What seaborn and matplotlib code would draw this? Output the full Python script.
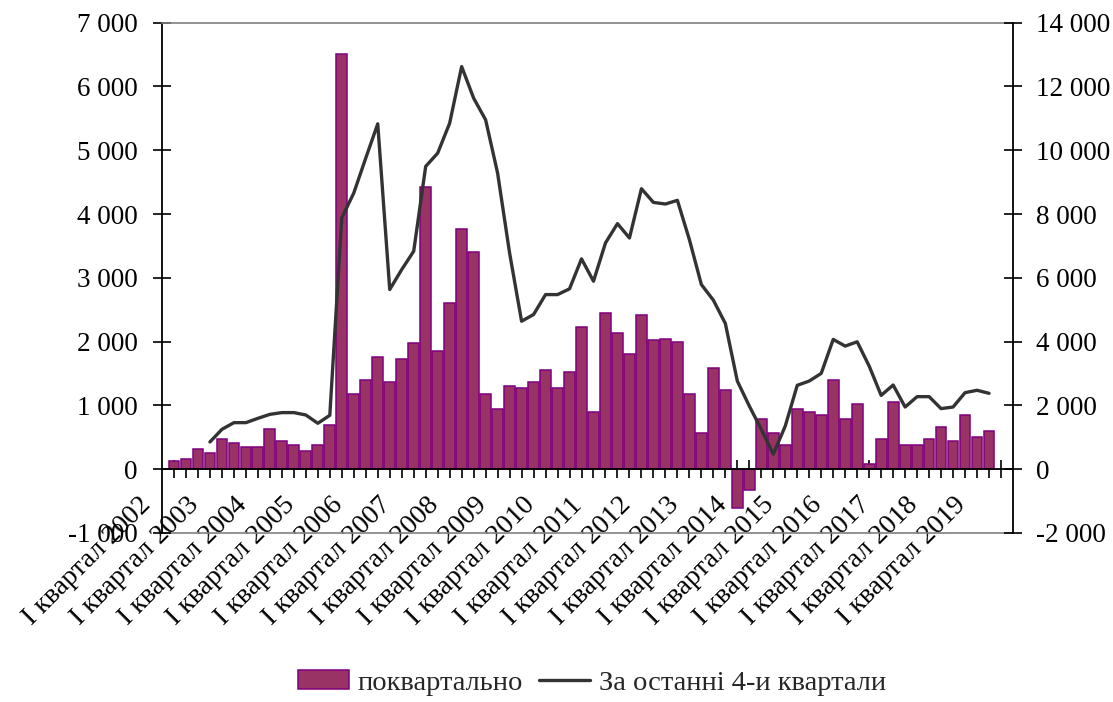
import numpy as np
import pandas as pd
import seaborn as sns
import matplotlib.pyplot as plt
from matplotlib.ticker import FuncFormatter
from matplotlib.transforms import ScaledTranslation

# categories: I quarter 2002 ... II quarter 2019 (last one has no data)
romans = ["I", "II", "III", "IV"]
years = list(range(2002, 2020))
quarters = [f"{r} квартал {y}" for y in years for r in romans][:70]

# quarterly values (left axis), I кв. 2002 - I кв. 2019
quarterly = [130, 155, 315, 250, 470, 405, 350, 350, 625, 435, 375, 285,
             375, 690, 6510, 1180, 1400, 1765, 1365, 1735, 1980, 4420, 1860, 2600,
             3765, 3400, 1180, 940, 1305, 1280, 1365, 1555, 1280, 1525, 2235, 900,
             2450, 2140, 1800, 2415, 2020, 2045, 1995, 1180, 565, 1585, 1240, -605,
             -325, 780, 565, 380, 940, 900, 845, 1400, 780, 1030, 80, 470,
             1060, 380, 380, 480, 665, 445, 845, 510, 595]

# last 4 quarters total (right axis), IV кв. 2002 - I кв. 2019
last4 = [855, 1250, 1460, 1460, 1595, 1720, 1775, 1775, 1700, 1440, 1690, 7880,
         8660, 9755, 10830, 5635, 6260, 6835, 9495, 9910, 10850, 12625, 11635, 10955,
         9285, 6780, 4640, 4850, 5475, 5475, 5655, 6595, 5895, 7095, 7700, 7250,
         8795, 8365, 8315, 8430, 7200, 5790, 5300, 4570, 2765, 1980, 1250, 470,
         1355, 2630, 2765, 3005, 4070, 3860, 3995, 3235, 2315, 2640, 1950, 2275,
         2275, 1900, 1950, 2400, 2475, 2380]
last4_start = "IV квартал 2002"

pos = {q: i for i, q in enumerate(quarters)}
bar_df = pd.DataFrame({"quarter": quarters[:len(quarterly)], "value": quarterly})
bar_df["pos"] = bar_df["quarter"].map(pos)
s = pos[last4_start]
line_df = pd.DataFrame({"quarter": quarters[s:s + len(last4)], "total": last4})
line_df["pos"] = line_df["quarter"].map(pos)

BAR = "#993366"
EDGE = "#800080"
LINE = "#333333"
FS = 19.5

sns.set_theme(style="white")
plt.rcParams["font.family"] = ["Liberation Serif", "DejaVu Serif"]
plt.rcParams["font.size"] = FS

fig = plt.figure(figsize=(11.13, 7.02), dpi=100)
ax = fig.add_axes([162 / 1113, 1 - 533 / 702, (1013 - 162) / 1113, (533 - 22.7) / 702])

sns.barplot(data=bar_df, x="pos", y="value", native_scale=True, width=0.9,
            color=BAR, edgecolor=EDGE, linewidth=1.1, saturation=1,
            errorbar=None, ax=ax)
ax2 = ax.twinx()
sns.lineplot(data=line_df, x="pos", y="total", ax=ax2, color=LINE,
             linewidth=2.4, errorbar=None)

fmt = FuncFormatter(lambda v, p: f"{v:,.0f}".replace(",", " "))
ax.set_xlim(-1, len(quarters))
ax.set_ylim(-1000, 7000)
ax.set_yticks(range(-1000, 7001, 1000))
ax.yaxis.set_major_formatter(fmt)
ax2.set_ylim(-2000, 14000)
ax2.set_yticks(range(-2000, 14001, 2000))
ax2.yaxis.set_major_formatter(fmt)
ax.set_xlabel("")
ax.set_ylabel("")
ax2.set_ylabel("")

ax.set_xticks(range(len(quarters)))
ax.tick_params(axis="x", direction="inout", length=13, width=1.2, color="black",
               bottom=True, labelbottom=False)
ax.tick_params(axis="y", direction="inout", length=13, width=1.2, color="black",
               left=True, pad=11, labelsize=FS, labelcolor="black")
ax2.tick_params(axis="y", direction="inout", length=13.5, width=1.2, color="black",
                right=True, pad=10, labelsize=FS, labelcolor="black")

ax.spines["bottom"].set_position(("data", 0))
ax.spines["bottom"].set_color("black")
ax.spines["bottom"].set_linewidth(1.3)
ax.spines["left"].set_color("black")
ax.spines["left"].set_linewidth(1.3)
ax.spines["top"].set_color("#808080")
ax.spines["top"].set_linewidth(1.2)
ax.spines["right"].set_visible(False)
for side in ["top", "bottom", "left"]:
    ax2.spines[side].set_visible(False)
ax2.spines["right"].set_color("black")
ax2.spines["right"].set_linewidth(1.3)

# category labels sit below the plot area (every 4th quarter)
sec = ax.secondary_xaxis("bottom")
sec.set_xticks(list(range(0, len(quarters), 4)),
               labels=[quarters[i] for i in range(0, len(quarters), 4)])
sec.tick_params(length=0, pad=0, labelsize=20, labelcolor="black")
sec.spines["bottom"].set_color("#808080")
sec.spines["bottom"].set_linewidth(1.2)
shift = ScaledTranslation(-0.22, 0.27, fig.dpi_scale_trans)
for lab in sec.get_xticklabels():
    lab.set_rotation(45)
    lab.set_ha("right")
    lab.set_va("baseline")
    lab.set_rotation_mode("anchor")
    lab.set_transform(lab.get_transform() + shift)

fig.legend(handles=[ax.containers[0], ax2.lines[0]],
           labels=["поквартально", "За останні 4-и квартали"],
           loc="center", bbox_to_anchor=(592 / 1113, 1 - 683 / 702), ncol=2,
           frameon=False, fontsize=20.5, handlelength=1.8, handleheight=0.6,
           handletextpad=0.3, columnspacing=0.55)

fig.savefig("out.png", dpi=100, facecolor="white")
